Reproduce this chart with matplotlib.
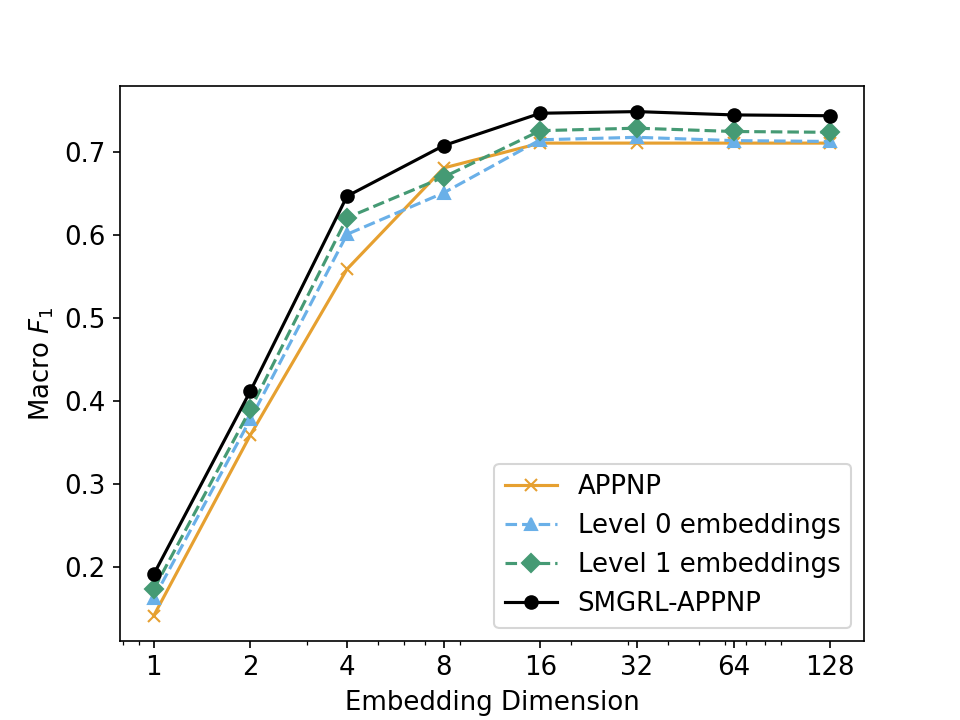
import numpy as np
import matplotlib
matplotlib.use("Agg")
from matplotlib import pyplot as plt

dims = [1, 2, 4, 8, 16, 32, 64, 128]
appnp = [0.141, 0.359, 0.559, 0.681, 0.711, 0.711, 0.711, 0.711]
level0 = [0.162, 0.378, 0.601, 0.651, 0.715, 0.718, 0.714, 0.713]
level1 = [0.173, 0.390, 0.621, 0.670, 0.726, 0.729, 0.725, 0.724]
smgrl = [0.191, 0.412, 0.647, 0.708, 0.747, 0.749, 0.745, 0.744]

plt.rcParams["font.size"] = 12.5

fig, ax = plt.subplots(figsize=(6.4, 4.8), dpi=150)

ax.plot(dims, appnp, "-x", color="#E6A030", label="APPNP")
ax.plot(dims, level0, "--^", color="#6AB0E8", label="Level 0 embeddings")
ax.plot(dims, level1, "--D", color="#459A74", label="Level 1 embeddings")
ax.plot(dims, smgrl, "-o", color="black", label="SMGRL-APPNP")

ax.set_xscale("log")
ax.set_xticks(dims)
ax.set_xticklabels([str(d) for d in dims])
ax.set_xlabel("Embedding Dimension")
ax.set_ylabel("Macro $F_1$")
ax.legend(loc="lower right")

plt.savefig("out.png")
